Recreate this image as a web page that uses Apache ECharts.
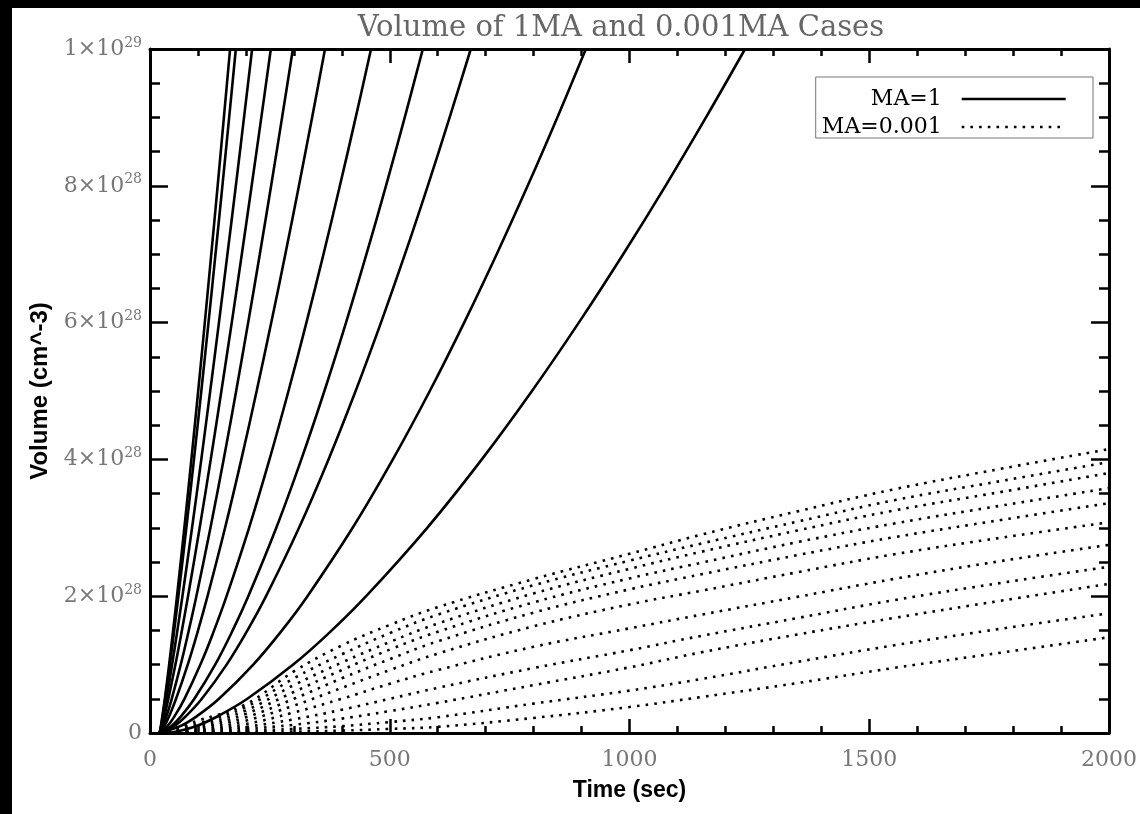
<!DOCTYPE html>
<html>
<head>
<meta charset="utf-8">
<script src="https://cdn.jsdelivr.net/npm/echarts@6/dist/echarts.min.js"></script>
<style>
html,body{margin:0;padding:0;background:#000;}
#c{width:1140px;height:814px;}
</style>
</head>
<body>
<div id="c"></div>
<script>
// Volume levels (units of 1e28 cm^-3) at which the MA=1 curves were read
const vLevels = [0, 0.1, 0.25, 0.5, 1, 1.5, 2, 3, 4, 5, 6, 7, 8, 9, 10];
// Times (sec) at which each MA=1 curve reaches the volume levels above
const solid1  = [20, 22.7, 25.9, 30.9, 39.9, 48.2, 56.3, 71.6, 86.3, 100.5, 114.3, 127.8, 141.1, 154.1, 167];
const solid2  = [20, 22.9, 26.4, 31.8, 41.5, 50.5, 59.2, 75.8, 91.7, 107.0, 122.0, 136.6, 151.0, 165.1, 179];
const solid3  = [20, 23.5, 27.8, 34.3, 46.1, 57.1, 67.6, 87.7, 107.0, 125.6, 143.8, 161.5, 179.0, 196.1, 213];
const solid4  = [20, 24.7, 30.2, 38.3, 53.0, 66.5, 79.3, 103.6, 126.7, 148.9, 170.5, 191.5, 212.0, 232.2, 252];
const solid5  = [20, 27.0, 34.5, 45.3, 64.1, 80.9, 96.7, 126.1, 153.6, 179.7, 204.7, 229.0, 252.6, 275.5, 298];
const solid6  = [20, 30.0, 40.2, 54.4, 78.7, 100.2, 120.0, 156.6, 190.5, 222.4, 252.9, 282.2, 310.6, 338.1, 365];
const solid7  = [20, 36.4, 51.6, 71.9, 105.1, 133.7, 159.7, 206.6, 249.2, 288.8, 326.2, 361.8, 396.0, 429.0, 461];
const solid8  = [20, 44.4, 65.4, 92.5, 135.9, 172.4, 205.0, 263.4, 315.6, 363.7, 408.8, 451.4, 492.1, 531.3, 569];
const solid9  = [20, 50.1, 75.5, 108.1, 159.8, 203.2, 242.0, 310.8, 372.3, 428.8, 481.7, 531.7, 579.3, 624.9, 669];
const solid10 = [20, 63.0, 98.5, 143.9, 215.4, 275.2, 328.4, 422.6, 506.5, 583.5, 655.2, 723.0, 787.6, 849.5, 909];
const solid11 = [40, 95.8, 142.7, 203.0, 298.7, 379.1, 450.7, 578.2, 692.0, 796.6, 894.3, 986.8, 1075.1, 1159.5, 1241];
const solidCurves = [solid1, solid2, solid3, solid4, solid5, solid6, solid7, solid8, solid9, solid10, solid11];

// Times (sec) for the MA=0.001 curves and their volumes (units of 1e28)
const dotTimes = [20, 100, 200, 300, 400, 500, 600, 800, 1000, 1150, 1350, 1550, 1780, 2000];
const dot1  = [0, 0.18, 0.42, 0.90, 1.28, 1.58, 1.84, 2.25, 2.62, 2.90, 3.24, 3.56, 3.87, 4.15];
const dot2  = [0, 0.14, 0.38, 0.80, 1.15, 1.46, 1.73, 2.16, 2.52, 2.77, 3.09, 3.40, 3.69, 3.96];
const dot3  = [0, 0.11, 0.33, 0.70, 1.03, 1.33, 1.60, 2.04, 2.40, 2.65, 2.96, 3.25, 3.53, 3.80];
const dot4  = [0, 0.08, 0.28, 0.60, 0.92, 1.22, 1.48, 1.91, 2.26, 2.49, 2.79, 3.06, 3.33, 3.58];
const dot5  = [0, 0.06, 0.23, 0.50, 0.80, 1.08, 1.34, 1.76, 2.10, 2.32, 2.60, 2.86, 3.12, 3.36];
const dot6  = [0, 0.04, 0.18, 0.40, 0.66, 0.92, 1.16, 1.56, 1.88, 2.08, 2.35, 2.61, 2.86, 3.08];
const dot7  = [0, 0.03, 0.13, 0.30, 0.50, 0.72, 0.92, 1.26, 1.53, 1.73, 1.99, 2.25, 2.52, 2.75];
const dot8  = [0, 0.02, 0.09, 0.20, 0.34, 0.50, 0.66, 0.95, 1.21, 1.42, 1.68, 1.94, 2.20, 2.43];
const dot9  = [0, 0.015, 0.06, 0.12, 0.21, 0.32, 0.44, 0.70, 0.96, 1.18, 1.44, 1.68, 1.94, 2.18];
const dot10 = [0, 0.01, 0.03, 0.06, 0.10, 0.16, 0.23, 0.43, 0.62, 0.79, 1.04, 1.28, 1.53, 1.75];
const dot11 = [0, 0.005, 0.01, 0.02, 0.035, 0.06, 0.09, 0.22, 0.38, 0.526, 0.73, 0.95, 1.18, 1.40];
const dotCurves = [dot1, dot2, dot3, dot4, dot5, dot6, dot7, dot8, dot9, dot10, dot11];

// Tick labels
const xTickValues = [0, 500, 1000, 1500, 2000];
const xTickTexts = ['0', '500', '1000', '1500', '2000'];
const yTickValues = [0, 2, 4, 6, 8, 10];
const yTickTexts = ['0', '2×10^28', '4×10^28', '6×10^28', '8×10^28', '1×10^29'];
const legendNames = ['MA=1', 'MA=0.001'];
const titleText = 'Volume of 1MA and 0.001MA Cases';
const xName = 'Time (sec)';
const yName = 'Volume (cm^-3)';

const labelFont = 'DejaVu Serif';
const tickGray = '#777';

function xLabel(v) {
  const i = xTickValues.indexOf(Math.round(v));
  return i < 0 ? '' : xTickTexts[i];
}
function yLabel(v) {
  const i = yTickValues.indexOf(Math.round(v * 100) / 100);
  if (i < 0) return '';
  const p = yTickTexts[i].split('^');
  if (p.length === 1) return '{a|' + p[0] + '}';
  return '{a|' + p[0] + '}{s|' + p[1] + '}';
}

const series = [];
solidCurves.forEach(function (c) {
  series.push({
    type: 'line', name: legendNames[0],
    data: c.map(function (t, j) { return [t, vLevels[j]]; }),
    symbol: 'none', showSymbol: false, smooth: 0.4, silent: true,
    itemStyle: { color: '#000' },
    lineStyle: { color: '#000', width: 2.6 }
  });
});
dotCurves.forEach(function (c) {
  series.push({
    type: 'line', name: legendNames[1],
    data: dotTimes.map(function (t, j) { return [t, c[j]]; }),
    symbol: 'none', showSymbol: false, smooth: 0.4, silent: true,
    itemStyle: { color: '#000' },
    lineStyle: { color: '#000', width: 2.6, type: [2.6, 6.1], cap: 'butt' }
  });
});

const axisLineStyle = { show: true, onZero: false, lineStyle: { color: '#000', width: 3 } };
const xTick = { show: true, inside: true, length: 14, lineStyle: { color: '#000', width: 2.5 } };
const xMinor = { show: true, splitNumber: 5, length: 7, lineStyle: { color: '#000', width: 2.5 } };
const yTick = { show: true, inside: true, length: 18, lineStyle: { color: '#000', width: 2.5 } };
const yMinor = { show: true, splitNumber: 4, length: 10, lineStyle: { color: '#000', width: 2.5 } };

const chart = echarts.init(document.getElementById('c'), null, { renderer: 'canvas' });
chart.setOption({
  animation: false,
  backgroundColor: '#fff',
  grid: { left: 150, right: 31, top: 49, bottom: 81, containLabel: false },
  graphic: [
    { type: 'rect', shape: { x: 0, y: 0, width: 1140, height: 8 }, style: { fill: '#000' }, z: 100 },
    { type: 'rect', shape: { x: 0, y: 0, width: 12, height: 814 }, style: { fill: '#000' }, z: 100 },
    { type: 'text', x: 621, y: 28, z: 50,
      style: { text: titleText, fontFamily: labelFont, fontSize: 29, fill: '#666',
               textAlign: 'center', textVerticalAlign: 'middle' } }
  ],
  legend: {
    data: legendNames,
    orient: 'vertical',
    right: 47, top: 77,
    padding: [11, 26, 0, 2],
    itemGap: 6,
    itemWidth: 104, itemHeight: 14,
    align: 'right',
    backgroundColor: '#fff',
    borderColor: '#777', borderWidth: 1, borderRadius: 0,
    selectedMode: false,
    itemStyle: { opacity: 0, borderWidth: 0 },
    lineStyle: { width: 2.6 },
    formatter: function (n) { return '{r|' + n + '}'; },
    textStyle: {
      rich: {
        r: { width: 124, align: 'right', fontFamily: labelFont, fontSize: 22, color: '#000',
             lineHeight: 20, padding: [0, 15, 0, 0] }
      }
    }
  },
  xAxis: [
    {
      type: 'value', min: 0, max: 2000, interval: 500, position: 'bottom',
      name: xName, nameLocation: 'middle', nameGap: 46,
      nameTextStyle: { fontFamily: 'Liberation Sans', fontWeight: 'bold', fontSize: 23, color: '#000' },
      axisLine: axisLineStyle, axisTick: xTick, minorTick: xMinor,
      splitLine: { show: false },
      axisLabel: { show: true, margin: 16, formatter: xLabel, fontFamily: labelFont, fontSize: 22, color: tickGray }
    },
    {
      type: 'value', min: 0, max: 2000, interval: 500, position: 'top',
      axisLine: axisLineStyle, axisTick: xTick, minorTick: xMinor,
      splitLine: { show: false },
      axisLabel: { show: false }
    }
  ],
  yAxis: [
    {
      type: 'value', min: 0, max: 10, interval: 2, position: 'left',
      name: yName, nameLocation: 'middle', nameGap: 98, nameRotate: 90,
      nameTextStyle: { fontFamily: 'Liberation Sans', fontWeight: 'bold', fontSize: 24, color: '#000' },
      axisLine: axisLineStyle, axisTick: yTick, minorTick: yMinor,
      splitLine: { show: false },
      axisLabel: {
        show: true, margin: 8, formatter: yLabel,
        rich: {
          a: { fontFamily: labelFont, fontSize: 22, color: tickGray, lineHeight: 26 },
          s: { fontFamily: labelFont, fontSize: 14, color: tickGray, lineHeight: 14, verticalAlign: 'top' }
        }
      }
    },
    {
      type: 'value', min: 0, max: 10, interval: 2, position: 'right',
      axisLine: axisLineStyle, axisTick: yTick, minorTick: yMinor,
      splitLine: { show: false },
      axisLabel: { show: false }
    }
  ],
  series: series
});
</script>
</body>
</html>
